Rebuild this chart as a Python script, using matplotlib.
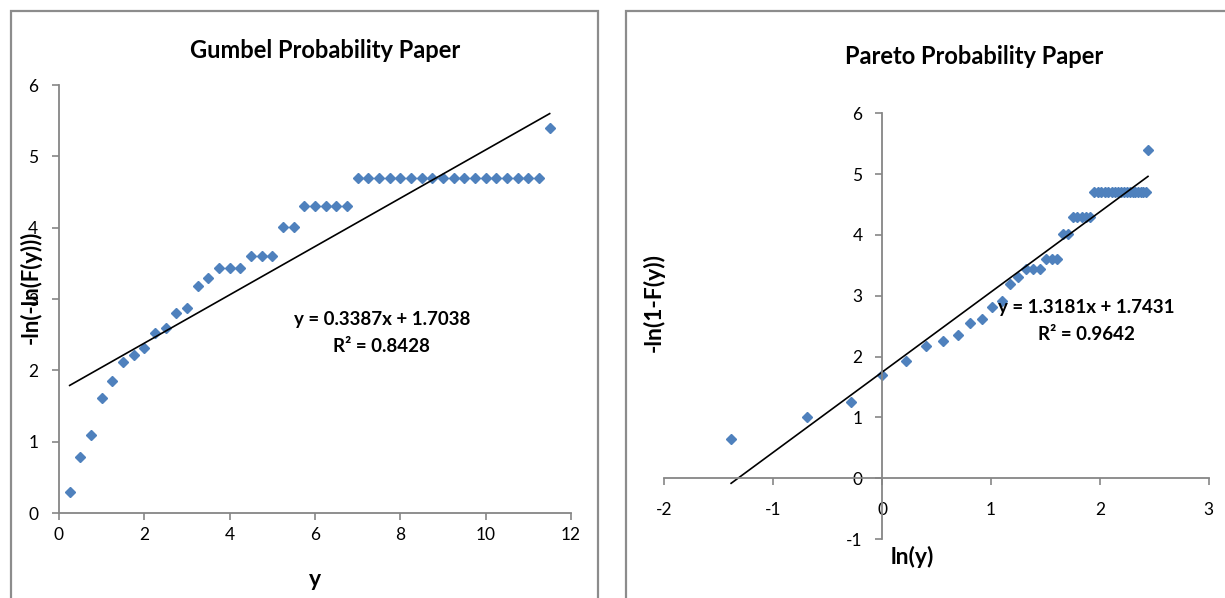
import numpy as np
import matplotlib
matplotlib.use("Agg")
import matplotlib.pyplot as plt
from matplotlib.patches import Rectangle

plt.rcParams['font.family'] = ['Lato', 'DejaVu Sans']
plt.rcParams['axes.unicode_minus'] = False

# sample values (x of the Gumbel paper), also used for ln(y) on the Pareto paper
y_obs = [0.25, 0.5, 0.75, 1.0, 1.25, 1.5, 1.75, 2.0, 2.25, 2.5, 2.75, 3.0,
         3.25, 3.5, 3.75, 4.0, 4.25, 4.5, 4.75, 5.0, 5.25, 5.5, 5.75, 6.0,
         6.25, 6.5, 6.75, 7.0, 7.25, 7.5, 7.75, 8.0, 8.25, 8.5, 8.75, 9.0,
         9.25, 9.5, 9.75, 10.0, 10.25, 10.5, 10.75, 11.0, 11.25, 11.5]
gumbel_y = [0.29, 0.78, 1.09, 1.61, 1.85, 2.12, 2.21, 2.31, 2.53, 2.59, 2.80, 2.88,
            3.18, 3.30, 3.44, 3.44, 3.44, 3.60, 3.60, 3.60, 4.01, 4.01, 4.30, 4.30,
            4.30, 4.30, 4.30, 4.70, 4.70, 4.70, 4.70, 4.70, 4.70, 4.70, 4.70, 4.70,
            4.70, 4.70, 4.70, 4.70, 4.70, 4.70, 4.70, 4.70, 4.70, 5.40]
pareto_y = [0.64, 1.00, 1.25, 1.70, 1.92, 2.18, 2.26, 2.35, 2.56, 2.62, 2.82, 2.91,
            3.19, 3.31, 3.44, 3.44, 3.44, 3.60, 3.60, 3.60, 4.01, 4.01, 4.30, 4.30,
            4.30, 4.30, 4.30, 4.70, 4.70, 4.70, 4.70, 4.70, 4.70, 4.70, 4.70, 4.70,
            4.70, 4.70, 4.70, 4.70, 4.70, 4.70, 4.70, 4.70, 4.70, 5.40]
gumbel_fit = (0.3387, 1.7038, 0.8428)
pareto_fit = (1.3181, 1.7431, 0.9642)

W, H = 1225, 598
blue = '#4F81BD'
gray = '#868686'

fig = plt.figure(figsize=(W / 100, H / 100), dpi=100)

def fx(x):
    return x / W

def fy(y):
    return 1 - y / H

# chart frames
fig.add_artist(Rectangle((fx(11), fy(620)), fx(598) - fx(11), fy(11) - fy(620),
                         transform=fig.transFigure, fill=False, ec='#8c8c8c', lw=1.6))
fig.add_artist(Rectangle((fx(626), fy(620)), fx(1240) - fx(626), fy(11) - fy(620),
                         transform=fig.transFigure, fill=False, ec='#8c8c8c', lw=1.6))

# ---- Gumbel ----
ax1 = fig.add_axes([fx(59), fy(513), fx(571) - fx(59), fy(85) - fy(513)])
ax1.plot(y_obs, gumbel_y, 'D', color=blue, markersize=4.8, mec=blue)
xs = np.array([y_obs[0], y_obs[-1]])
ax1.plot(xs, gumbel_fit[0] * xs + gumbel_fit[1], color='black', lw=1.2)
ax1.set_xlim(0, 12)
ax1.set_ylim(0, 6)
ax1.set_xticks(range(0, 13, 2))
ax1.set_yticks(range(0, 7))
for s in ['top', 'right']:
    ax1.spines[s].set_visible(False)
for s in ['left', 'bottom']:
    ax1.spines[s].set_color(gray)
    ax1.spines[s].set_linewidth(1.3)
ax1.tick_params(axis='both', colors=gray, labelcolor='black', labelsize=12.5,
                length=5, width=1.2, direction='out')
ax1.tick_params(axis='y', pad=10)
ax1.tick_params(axis='x', pad=5)
ax1.patch.set_alpha(0)

fig.text(fx(325), fy(50), 'Gumbel Probability Paper', ha='center', va='center',
         fontsize=17, fontweight='bold')
fig.text(fx(315), fy(580), 'y', ha='center', va='center', fontsize=16.5, fontweight='bold')
# axis title sits over the tick labels, as in the original sheet
fig.text(fx(31), fy(287), '-ln(-ln(F(y)))', ha='center', va='center', rotation=90,
         fontsize=16, fontweight='bold')
fig.text(fx(382), fy(319), 'y = %.4fx + %.4f' % gumbel_fit[:2], ha='center', va='center',
         fontsize=13.5, fontweight='bold')
fig.text(fx(381), fy(346), 'R² = %.4f' % gumbel_fit[2], ha='center', va='center',
         fontsize=13.5, fontweight='bold')

# ---- Pareto ----
ax2 = fig.add_axes([fx(664.3), fy(539), fx(1208.7) - fx(664.3), fy(113.3) - fy(539)])
ln_y = np.log(y_obs)
ax2.plot(ln_y, pareto_y, 'D', color=blue, markersize=4.8, mec=blue)
xs2 = np.array([ln_y[0], ln_y[-1]])
ax2.plot(xs2, pareto_fit[0] * xs2 + pareto_fit[1], color='black', lw=1.2)
ax2.set_xlim(-2, 3)
ax2.set_ylim(-1, 6)
ax2.set_xticks(range(-2, 4))
ax2.set_yticks(range(-1, 7))
for s in ['top', 'right']:
    ax2.spines[s].set_visible(False)
for s in ['left', 'bottom']:
    ax2.spines[s].set_position(('data', 0))
    ax2.spines[s].set_color(gray)
    ax2.spines[s].set_linewidth(1.3)
ax2.tick_params(axis='both', colors=gray, labelcolor='black', labelsize=12.5,
                length=5, width=1.2, direction='out')
ax2.tick_params(axis='y', pad=9)
ax2.tick_params(axis='x', pad=12)
ax2.patch.set_alpha(0)

fig.text(fx(974), fy(56), 'Pareto Probability Paper', ha='center', va='center',
         fontsize=17, fontweight='bold')
fig.text(fx(912), fy(557), 'ln(y)', ha='center', va='center', fontsize=16.5, fontweight='bold')
fig.text(fx(654), fy(303), '-ln(1-F(y))', ha='center', va='center', rotation=90,
         fontsize=16.5, fontweight='bold')
fig.text(fx(1086), fy(308), 'y = %.4fx + %.4f' % pareto_fit[:2], ha='center', va='center',
         fontsize=13.5, fontweight='bold')
fig.text(fx(1086), fy(335), 'R² = %.4f' % pareto_fit[2], ha='center', va='center',
         fontsize=13.5, fontweight='bold')

fig.savefig('out.png', dpi=100)
